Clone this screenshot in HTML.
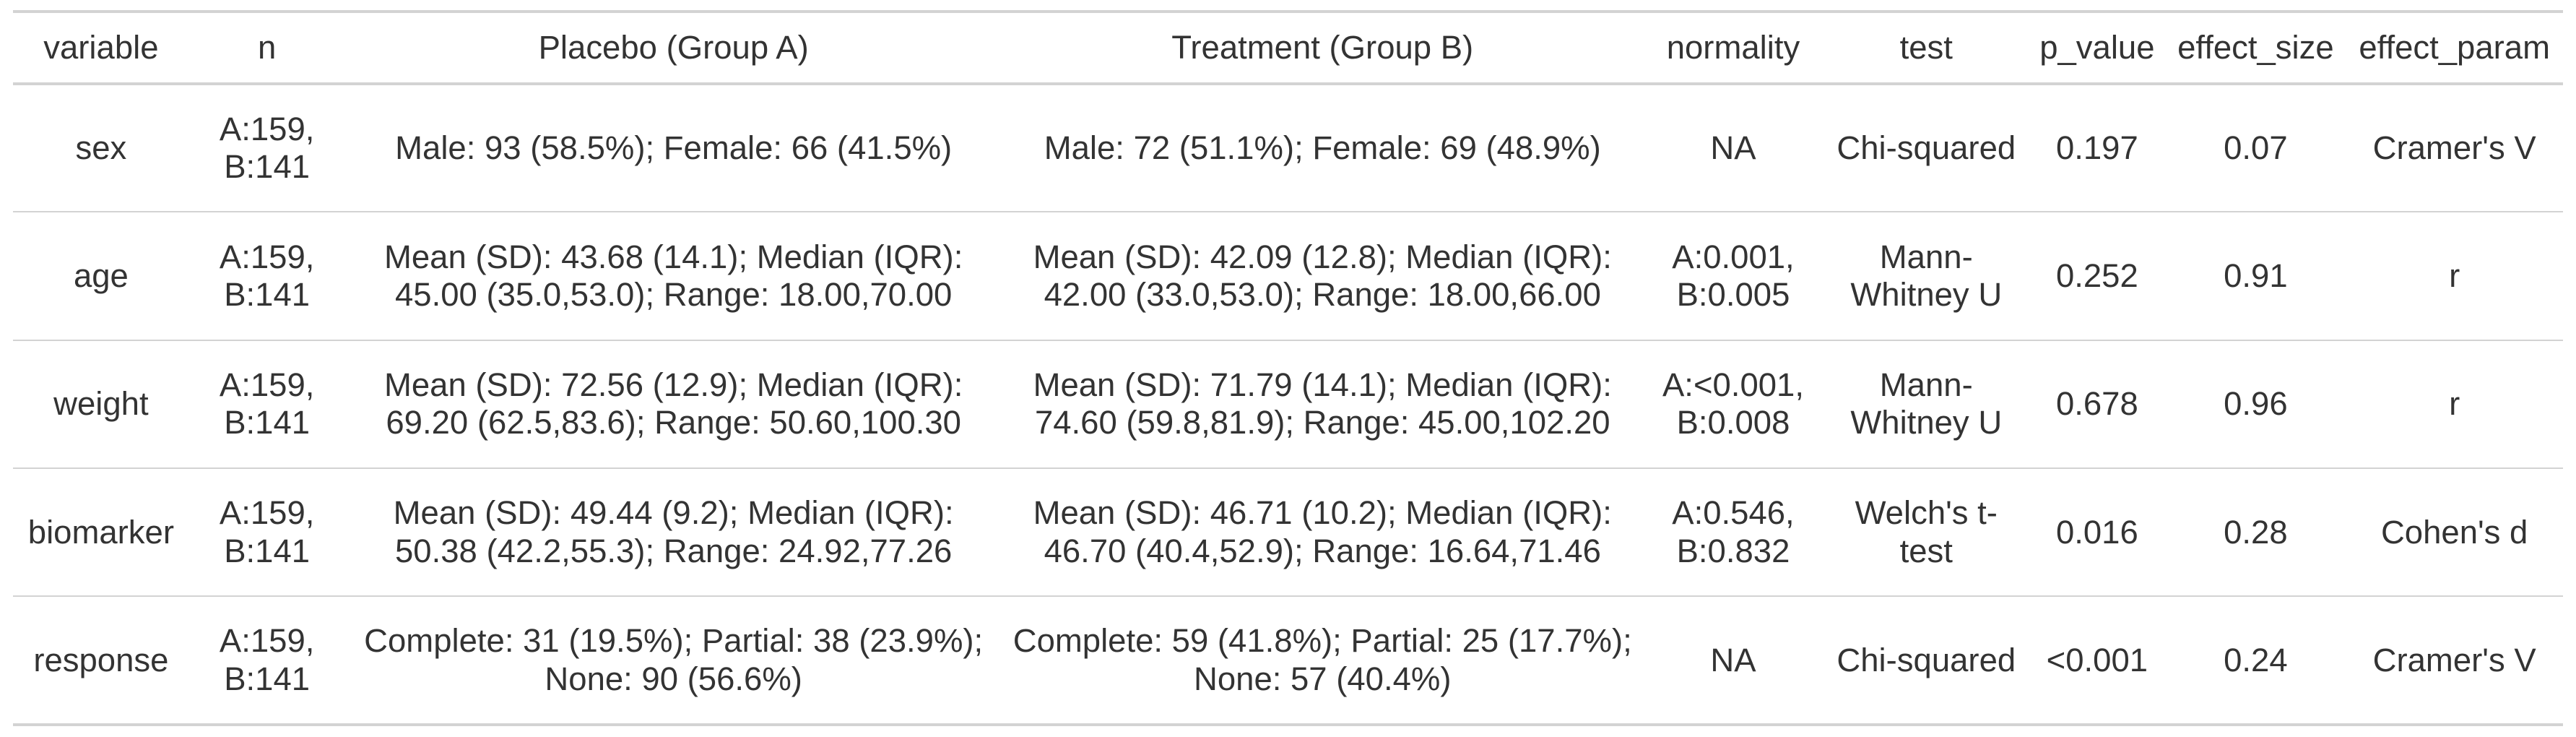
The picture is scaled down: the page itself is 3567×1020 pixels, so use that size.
<!DOCTYPE html>
<html><head><meta charset="utf-8"><style>
html,body{margin:0;padding:0;background:#fff;}
body{width:3567px;height:1020px;overflow:hidden;}
#w{zoom:2.2749;width:1568px;}
table{position:absolute;left:8px;top:6px;border-collapse:collapse;width:1552px;table-layout:fixed;
font-family:"Liberation Sans",sans-serif;font-size:20px;color:#333;}
th,td{text-align:center;white-space:nowrap;padding:0;font-weight:normal;}
thead tr{height:44px;}
thead th{border-top:2px solid #d3d3d3;border-bottom:2px solid #d3d3d3;}
tbody tr{height:78px;}
tbody td{border-bottom:1px solid #d3d3d3;line-height:23px;}
tbody tr:last-child td{border-bottom:2px solid #d3d3d3;}
</style></head><body><div id="w" style="position:relative">
<table>
<colgroup><col style="width:107px"><col style="width:95px"><col style="width:400px"><col style="width:390px"><col style="width:110px"><col style="width:125px"><col style="width:83px"><col style="width:110px"><col style="width:132px"></colgroup>
<thead><tr><th>variable</th><th>n</th><th>Placebo (Group A)</th><th>Treatment (Group B)</th><th>normality</th><th>test</th><th>p_value</th><th>effect_size</th><th>effect_param</th></tr></thead>
<tbody>
<tr><td>sex</td><td>A:159,<br>B:141</td><td>Male: 93 (58.5%); Female: 66 (41.5%)</td><td>Male: 72 (51.1%); Female: 69 (48.9%)</td><td>NA</td><td>Chi-squared</td><td>0.197</td><td>0.07</td><td>Cramer's V</td></tr>
<tr><td>age</td><td>A:159,<br>B:141</td><td>Mean (SD): 43.68 (14.1); Median (IQR):<br>45.00 (35.0,53.0); Range: 18.00,70.00</td><td>Mean (SD): 42.09 (12.8); Median (IQR):<br>42.00 (33.0,53.0); Range: 18.00,66.00</td><td>A:0.001,<br>B:0.005</td><td>Mann-<br>Whitney U</td><td>0.252</td><td>0.91</td><td>r</td></tr>
<tr><td>weight</td><td>A:159,<br>B:141</td><td>Mean (SD): 72.56 (12.9); Median (IQR):<br>69.20 (62.5,83.6); Range: 50.60,100.30</td><td>Mean (SD): 71.79 (14.1); Median (IQR):<br>74.60 (59.8,81.9); Range: 45.00,102.20</td><td>A:&lt;0.001,<br>B:0.008</td><td>Mann-<br>Whitney U</td><td>0.678</td><td>0.96</td><td>r</td></tr>
<tr><td>biomarker</td><td>A:159,<br>B:141</td><td>Mean (SD): 49.44 (9.2); Median (IQR):<br>50.38 (42.2,55.3); Range: 24.92,77.26</td><td>Mean (SD): 46.71 (10.2); Median (IQR):<br>46.70 (40.4,52.9); Range: 16.64,71.46</td><td>A:0.546,<br>B:0.832</td><td>Welch's t-<br>test</td><td>0.016</td><td>0.28</td><td>Cohen's d</td></tr>
<tr><td>response</td><td>A:159,<br>B:141</td><td>Complete: 31 (19.5%); Partial: 38 (23.9%);<br>None: 90 (56.6%)</td><td>Complete: 59 (41.8%); Partial: 25 (17.7%);<br>None: 57 (40.4%)</td><td>NA</td><td>Chi-squared</td><td>&lt;0.001</td><td>0.24</td><td>Cramer's V</td></tr>
</tbody></table></div></body></html>
